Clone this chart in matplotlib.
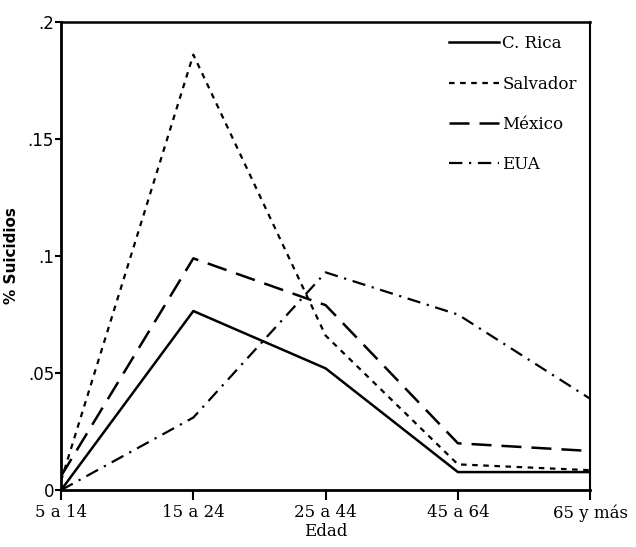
import matplotlib
matplotlib.use("Agg")
import matplotlib.pyplot as plt

edades = ["5 a 14", "15 a 24", "25 a 44", "45 a 64", "65 y más"]
costa_rica = [0.0, 0.0765, 0.052, 0.0077, 0.0077]
salvador = [0.004, 0.186, 0.066, 0.011, 0.0085]
mexico = [0.006, 0.099, 0.079, 0.020, 0.0167]
eua = [0.0, 0.031, 0.093, 0.075, 0.039]

y_ticks = [0, 0.05, 0.1, 0.15, 0.2]
y_tick_labels = ["0", ".05", ".1", ".15", ".2"]

fig = plt.figure(figsize=(6.36, 5.47), dpi=100)
ax = fig.add_axes([0.096, 0.104, 0.832, 0.856])

x = list(range(len(edades)))
ax.plot(x, costa_rica, color="black", lw=1.8, linestyle="-", label="C. Rica")
ax.plot(x, salvador, color="black", lw=1.6, linestyle=(0, (2.5, 2.5)), label="Salvador")
ax.plot(x, mexico, color="black", lw=1.8, linestyle=(0, (8, 4)), label="México")
ax.plot(x, eua, color="black", lw=1.6, linestyle=(0, (6, 3, 1, 3)), label="EUA")

ax.set_xlim(0, 4)
ax.set_ylim(0, 0.2)
ax.set_xticks(x)
ax.set_xticklabels(edades, family="DejaVu Serif", fontsize=12)
ax.set_yticks(y_ticks)
ax.set_yticklabels(y_tick_labels, fontsize=12)
ax.tick_params(axis="x", direction="out", length=7, width=1.5, pad=3)
ax.tick_params(axis="y", direction="out", length=4, width=1.5, pad=1)
for s in ax.spines.values():
    s.set_linewidth(1.5)
ax.spines["top"].set_linewidth(1.8)
ax.spines["left"].set_linewidth(2)
ax.spines["bottom"].set_linewidth(2)

ax.set_xlabel("Edad", family="DejaVu Serif", fontsize=12, labelpad=1)
ax.set_ylabel("% Suicidios", fontsize=11, fontweight="semibold", labelpad=6)

leg = ax.legend(loc="upper right", frameon=False, handlelength=3.0,
                handletextpad=0.2, labelspacing=1.4, borderaxespad=0.4,
                prop={"family": "DejaVu Serif", "size": 12},
                bbox_to_anchor=(1.0, 1.0))

fig.savefig("out.png", dpi=100)
